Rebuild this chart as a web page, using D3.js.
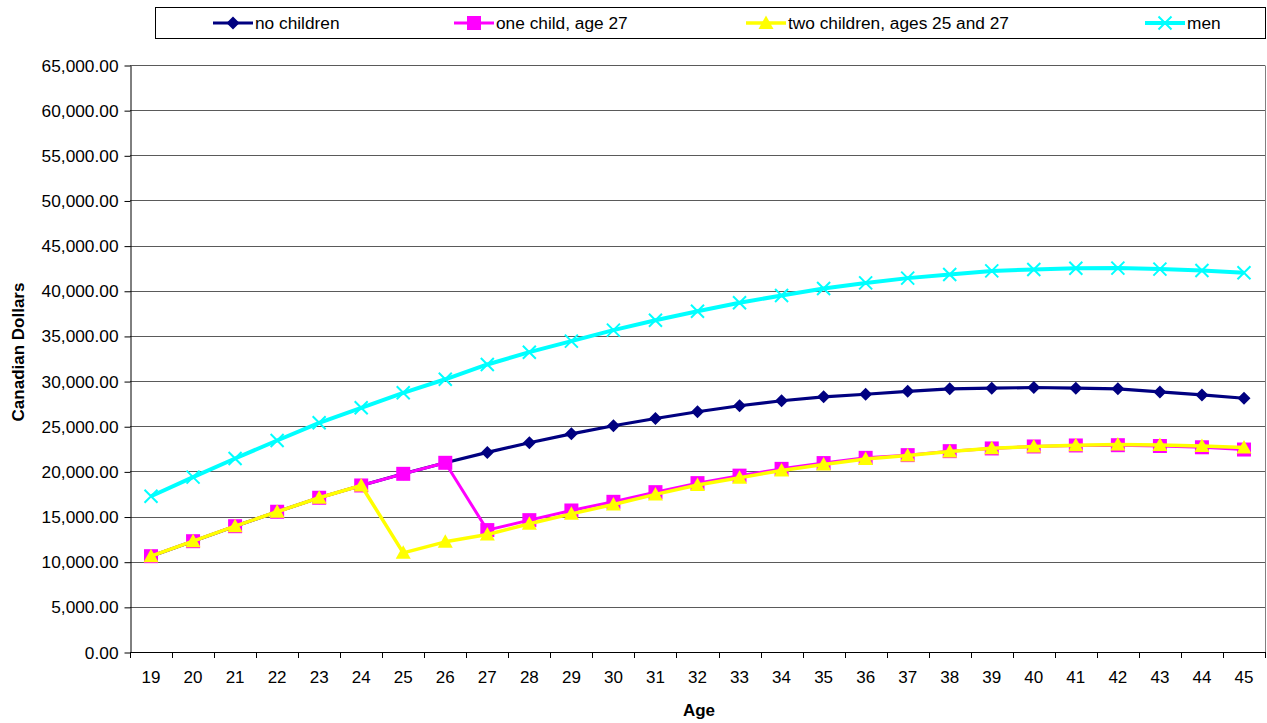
<!DOCTYPE html>
<html><head><meta charset="utf-8">
<script src="https://cdn.jsdelivr.net/npm/d3@7"></script>
<style>body{margin:0;background:#fff}svg{display:block;font-family:"Liberation Sans",Arial,sans-serif}</style>
</head><body><svg id="c" width="1267" height="723"></svg>
<script>
const ages = [19,20,21,22,23,24,25,26,27,28,29,30,31,32,33,34,35,36,37,38,39,40,41,42,43,44,45];
const noChildren = [10610,12270,13930,15530,17080,18440,19730,20950,22100,23170,24160,25050,25860,26600,27270,27820,28260,28540,28870,29140,29210,29290,29210,29140,28800,28470,28100];
const oneChild = [10610,12270,13930,15530,17080,18440,19730,20950,13500,14600,15670,16630,17700,18700,19530,20280,20920,21500,21800,22240,22540,22760,22870,22900,22810,22670,22420];
const twoChildren = [10610,12270,13930,15530,17080,18440,10980,12200,13010,14200,15300,16330,17450,18500,19300,20100,20760,21370,21760,22200,22560,22760,22900,22980,22920,22810,22650];
const men = [17250,19360,21430,23420,25380,27040,28700,30200,31840,33200,34420,35640,36740,37740,38670,39480,40250,40870,41400,41800,42200,42360,42500,42510,42400,42250,41990];
const yTicks = [0,5000,10000,15000,20000,25000,30000,35000,40000,45000,50000,55000,60000,65000];
const seriesNames = ["no children","one child, age 27","two children, ages 25 and 27","men"];

const svg = d3.select("#c");
const L=130, R=1265, T=65, B=652;
const x = d3.scaleBand().domain(ages).range([L,R]).padding(0);
const y = d3.scaleLinear().domain([0,65000]).range([B,T]);
const cx = a => x(a) + x.bandwidth()/2;

// gridlines
svg.append("g").selectAll("line").data(yTicks.filter(d=>d>0)).join("line")
  .attr("x1",L).attr("x2",R).attr("y1",d=>Math.round(y(d))+0.5).attr("y2",d=>Math.round(y(d))+0.5)
  .attr("stroke","#5a5a5a").attr("stroke-width",1);
// right border
svg.append("line").attr("x1",R+0.5).attr("x2",R+0.5).attr("y1",T+0.5).attr("y2",B).attr("stroke","#808080");

// y axis
const ya = svg.append("g").attr("transform",`translate(${L+0.5},0.5)`)
  .call(d3.axisLeft(y).tickValues(yTicks).tickFormat(d3.format(",.2f")).tickSize(6).tickPadding(6).tickSizeOuter(0));
ya.selectAll("text").attr("font-size",17.3).attr("fill","#000").attr("font-family","Liberation Sans, Arial, sans-serif");
ya.selectAll("line,path").attr("stroke","#000");

// x axis
svg.append("line").attr("x1",L).attr("x2",R).attr("y1",B+0.5).attr("y2",B+0.5).attr("stroke","#000");
const bounds = ages.map(a=>x(a)).concat([R]);
svg.append("g").selectAll("line").data(bounds).join("line")
  .attr("x1",d=>Math.round(d)+0.5).attr("x2",d=>Math.round(d)+0.5).attr("y1",B).attr("y2",B+6).attr("stroke","#000");
svg.append("g").selectAll("text").data(ages).join("text")
  .attr("x",d=>cx(d)).attr("y",B+31).attr("text-anchor","middle").attr("font-size",17).text(d=>d);

// axis titles
svg.append("text").attr("x",699).attr("y",716).attr("text-anchor","middle")
  .attr("font-size",17).attr("font-weight","bold").text("Age");
svg.append("text").attr("transform","translate(24,352) rotate(-90)").attr("text-anchor","middle")
  .attr("font-size",17).attr("font-weight","bold").text("Canadian Dollars");

const marker = {
  diamond: "M0,-6.5L6.5,0L0,6.5L-6.5,0Z",
  square: "M-7,-7H7V7H-7Z",
  triangle: "M0,-7.5L7.5,6L-7.5,6Z",
  x: "M-6.5,-6.5L6.5,6.5M6.5,-6.5L-6.5,6.5"
};
const series = [
  {name:seriesNames[0], values:noChildren, color:"#000080", w:3.2, m:"diamond"},
  {name:seriesNames[1], values:oneChild, color:"#ff00ff", w:3, m:"square"},
  {name:seriesNames[2], values:twoChildren, color:"#ffff00", w:3.5, m:"triangle"},
  {name:seriesNames[3], values:men, color:"#00ffff", w:4, m:"x"}
];
const line = d3.line().x((d,i)=>cx(ages[i])).y(d=>y(d));
function drawMarker(g, s, px, py){
  const p = g.append("path").attr("d",marker[s.m]).attr("transform",`translate(${px},${py})`);
  if(s.m==="x") p.attr("fill","none").attr("stroke",s.color).attr("stroke-width",2);
  else p.attr("fill",s.color).attr("stroke","none");
}
series.forEach(s=>{
  const g = svg.append("g");
  g.append("path").attr("d",line(s.values)).attr("fill","none").attr("stroke",s.color).attr("stroke-width",s.w).attr("stroke-linejoin","round");
  s.values.forEach((v,i)=>drawMarker(g,s,cx(ages[i]),y(v)));
});

// legend
const lg = svg.append("g");
lg.append("rect").attr("x",155.5).attr("y",7.5).attr("width",1110).attr("height",31).attr("fill","#fff").attr("stroke","#000");
const lx = [213, 454, 746, 1145];
series.forEach((s,i)=>{
  const g = lg.append("g");
  g.append("line").attr("x1",lx[i]).attr("x2",lx[i]+40).attr("y1",23).attr("y2",23).attr("stroke",s.color).attr("stroke-width",s.w);
  drawMarker(g,s,lx[i]+20,23);
  g.append("text").attr("x",lx[i]+42).attr("y",29).attr("font-size",17.3).text(s.name);
});
</script></body></html>
